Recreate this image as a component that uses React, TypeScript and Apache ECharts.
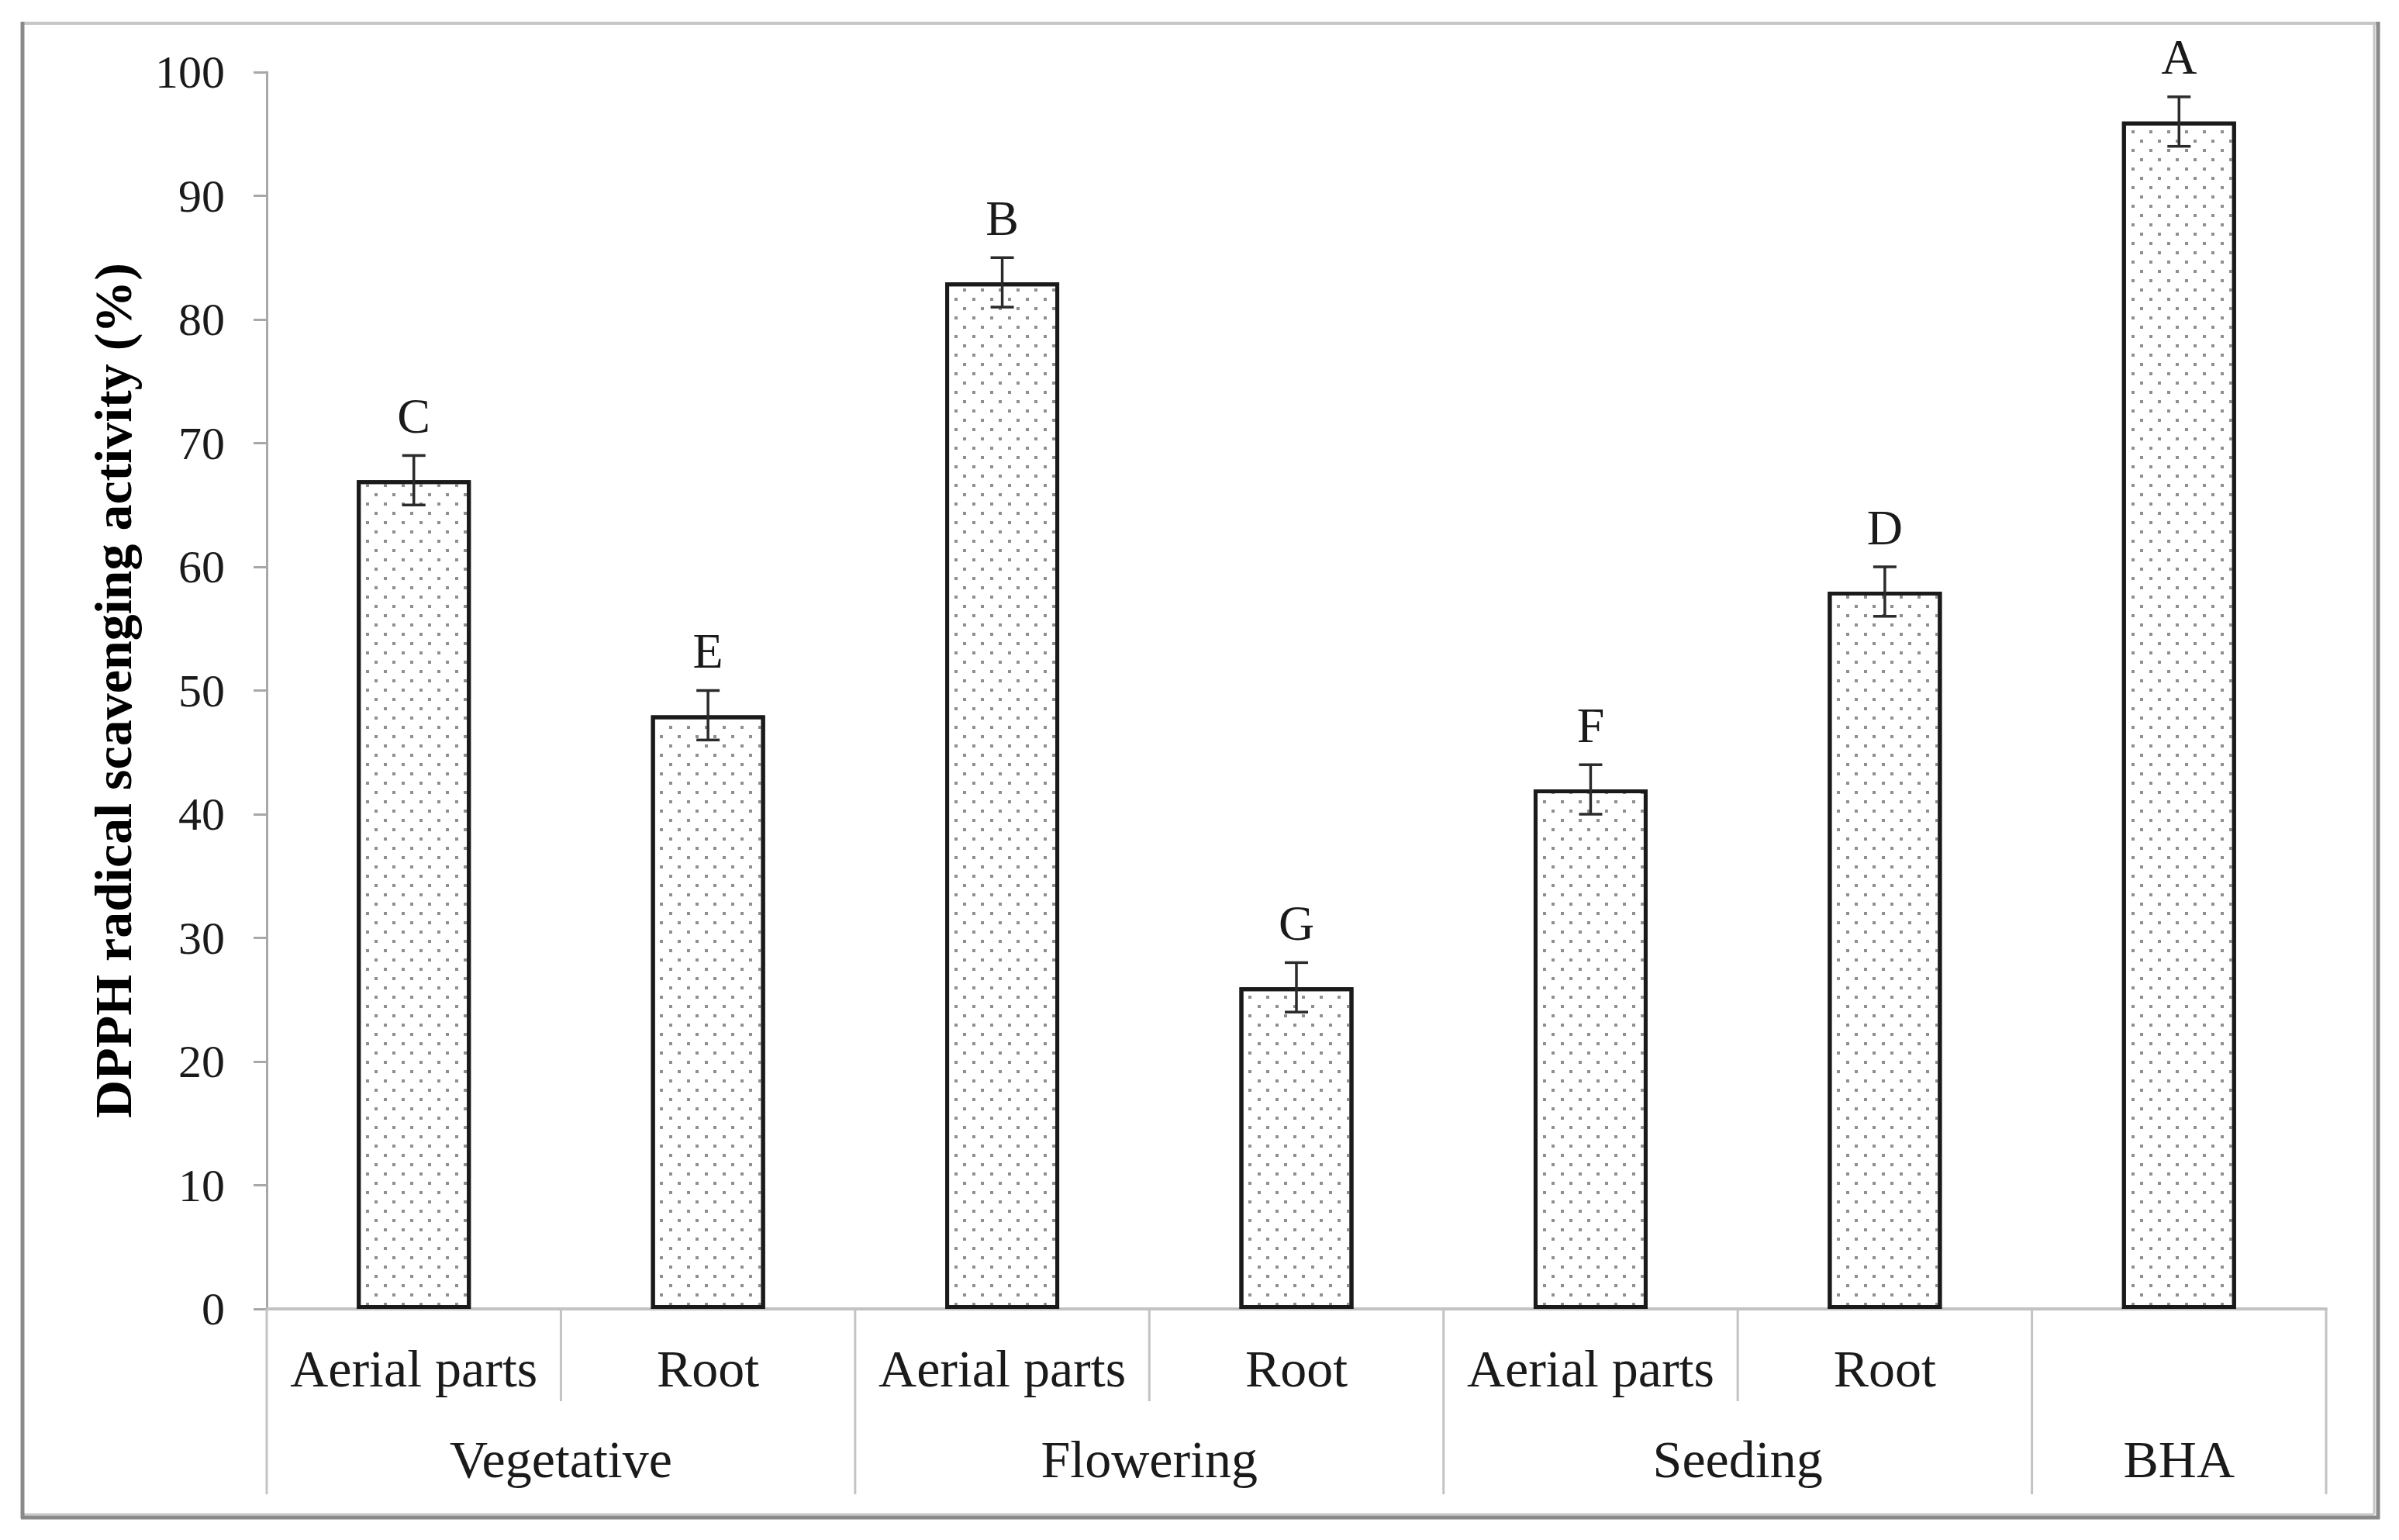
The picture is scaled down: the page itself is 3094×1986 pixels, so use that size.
import React, { useEffect, useRef } from 'react';
import * as echarts from 'echarts';

// ---- data ----
const categories = [
  'Vegetative / Aerial parts',
  'Vegetative / Root',
  'Flowering / Aerial parts',
  'Flowering / Root',
  'Seeding / Aerial parts',
  'Seeding / Root',
  'BHA',
];
const subLabels = ['Aerial parts', 'Root', 'Aerial parts', 'Root', 'Aerial parts', 'Root', ''];
const groupNames = ['Vegetative', 'Flowering', 'Seeding', 'BHA'];
const groupSpans = [2, 2, 2, 1];
const activity = [67, 48, 83, 26, 42, 58, 96];
const errorSize = [2, 2, 2, 2, 2, 2, 2];
const letters = ['C', 'E', 'B', 'G', 'F', 'D', 'A'];
const yAxisTitle = 'DPPH radical scavenging activity (%)';
const yMin = 0;
const yMax = 100;
const yStep = 10;

const FONT = '"Liberation Serif", "Times New Roman", serif';

export default function App() {
  const ref = useRef<HTMLDivElement>(null);

  useEffect(() => {
    if (!ref.current) return;
    const chart = echarts.init(ref.current, undefined, { renderer: 'svg' });

    const groups: number[][] = [];
    let start = 0;
    groupSpans.forEach((span) => {
      groups.push([start, 0, start + span - 1]);
      start += span;
    });

    const light = '#c6c6c6';
    const dark = '#8a8a8a';

    const option: any = {
      animation: false,
      backgroundColor: '#ffffff',
      grid: { left: 344, right: 94, top: 93, bottom: 298, containLabel: false },
      xAxis: {
        type: 'category',
        data: categories,
        axisLine: { show: true, lineStyle: { color: '#c2c2c2', width: 4 } },
        axisTick: { show: false },
        axisLabel: { show: false },
        splitLine: { show: false },
      },
      yAxis: {
        type: 'value',
        min: yMin,
        max: yMax,
        interval: yStep,
        name: yAxisTitle,
        nameLocation: 'middle',
        nameRotate: 90,
        nameGap: 164,
        nameTextStyle: { fontSize: 68, fontWeight: 'bold', fontFamily: FONT, color: '#000' },
        axisLine: { show: true, lineStyle: { color: '#a8a8a8', width: 3 } },
        axisTick: { show: true, inside: false, length: 17, lineStyle: { color: '#a8a8a8', width: 3 } },
        axisLabel: { fontSize: 60, fontFamily: FONT, color: '#1a1a1a', margin: 54 },
        splitLine: { show: false },
      },
      graphic: [
        { type: 'line', shape: { x1: 28, y1: 30, x2: 3068, y2: 30 }, style: { stroke: light, lineWidth: 4 } },
        { type: 'line', shape: { x1: 3062, y1: 30, x2: 3062, y2: 1953 }, style: { stroke: light, lineWidth: 3 } },
        { type: 'line', shape: { x1: 28, y1: 1953, x2: 3062, y2: 1953 }, style: { stroke: light, lineWidth: 3 } },
        { type: 'line', shape: { x1: 29, y1: 28, x2: 29, y2: 1958 }, style: { stroke: dark, lineWidth: 5 } },
        { type: 'line', shape: { x1: 3067, y1: 28, x2: 3067, y2: 1959 }, style: { stroke: dark, lineWidth: 5 } },
        { type: 'line', shape: { x1: 27, y1: 1957, x2: 3069, y2: 1957 }, style: { stroke: dark, lineWidth: 5 } },
      ],
      series: [
        {
          type: 'custom',
          name: 'axis-groups',
          silent: true,
          z: 1,
          encode: { x: 0, y: 1 },
          data: groups,
          renderItem: (params: any, api: any) => {
            const s = api.value(0);
            const e = api.value(2);
            const bw = api.size([1, 0])[0];
            const p0 = api.coord([s, 0]);
            const y0 = p0[1];
            const left = p0[0] - bw / 2;
            const right = api.coord([e, 0])[0] + bw / 2;
            const ls = { stroke: '#c3c3c3', lineWidth: 3 };
            const children: any[] = [];
            children.push({ type: 'line', shape: { x1: left, y1: y0, x2: left, y2: y0 + 239 }, style: ls });
            if (params.dataIndex === groups.length - 1) {
              children.push({ type: 'line', shape: { x1: right, y1: y0, x2: right, y2: y0 + 239 }, style: ls });
            }
            for (let k = s; k <= e; k++) {
              const cx = api.coord([k, 0])[0];
              if (k < e) {
                children.push({
                  type: 'line',
                  shape: { x1: cx + bw / 2, y1: y0, x2: cx + bw / 2, y2: y0 + 119 },
                  style: ls,
                });
              }
              if (subLabels[k]) {
                children.push({
                  type: 'text',
                  x: cx,
                  y: y0 + 77,
                  style: {
                    text: subLabels[k],
                    fontSize: 68,
                    fontFamily: FONT,
                    fill: '#1a1a1a',
                    align: 'center',
                    verticalAlign: 'middle',
                  },
                });
              }
            }
            children.push({
              type: 'text',
              x: (left + right) / 2,
              y: y0 + 194,
              style: {
                text: groupNames[params.dataIndex],
                fontSize: 68,
                fontFamily: FONT,
                fill: '#1a1a1a',
                align: 'center',
                verticalAlign: 'middle',
              },
            });
            return { type: 'group', children };
          },
        },
        {
          type: 'bar',
          name: 'DPPH',
          data: activity,
          barWidth: 147,
          z: 2,
          itemStyle: {
            color: '#ffffff',
            borderColor: '#1a1a1a',
            borderWidth: 5,
            decal: {
              symbol: 'rect',
              symbolSize: 1,
              symbolKeepAspect: false,
              color: '#8f8f8f',
              backgroundColor: 'rgba(0,0,0,0)',
              dashArrayX: [[4, 19], [0, 12, 4, 7]],
              dashArrayY: [4, 8],
              rotation: 0,
            },
          },
        },
        {
          type: 'custom',
          name: 'error',
          silent: true,
          z: 3,
          encode: { x: 0, y: 1 },
          data: activity.map((v, i) => [i, v, errorSize[i]]),
          renderItem: (params: any, api: any) => {
            const i = api.value(0);
            const v = api.value(1);
            const e = api.value(2);
            const top = api.coord([i, v + e]);
            const bot = api.coord([i, v - e]);
            const x = top[0];
            const cap = 15;
            const st = { stroke: '#2b2b2b', lineWidth: 3.5 };
            return {
              type: 'group',
              children: [
                { type: 'line', shape: { x1: x, y1: top[1], x2: x, y2: bot[1] }, style: st },
                { type: 'line', shape: { x1: x - cap, y1: top[1], x2: x + cap, y2: top[1] }, style: st },
                { type: 'line', shape: { x1: x - cap, y1: bot[1], x2: x + cap, y2: bot[1] }, style: st },
                {
                  type: 'text',
                  x,
                  y: top[1] - 51,
                  style: {
                    text: letters[params.dataIndex],
                    fontSize: 64,
                    fontFamily: FONT,
                    fill: '#1a1a1a',
                    align: 'center',
                    verticalAlign: 'middle',
                  },
                },
              ],
            };
          },
        },
      ],
    };

    chart.setOption(option);
    return () => {
      chart.dispose();
    };
  }, []);

  return (
    <div
      ref={ref}
      style={{ position: 'absolute', left: 0, top: 0, width: 3094, height: 1986, background: '#fff' }}
    />
  );
}
